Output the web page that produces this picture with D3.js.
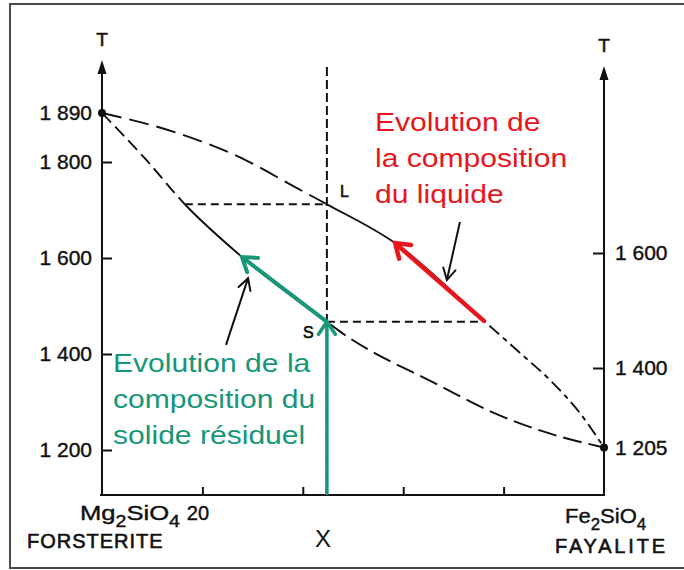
<!DOCTYPE html>
<html><head><meta charset="utf-8">
<script src="https://cdn.jsdelivr.net/npm/d3@7"></script>
<style>
body{margin:0;background:#fff}
svg text{font-family:"Liberation Sans",Arial,Helvetica,sans-serif}
</style>
</head><body><svg id="c" width="684" height="570"></svg>
<script>
// ---- data (composition % Fe2SiO4, temperature °C) ----
const liquidus = [[0,1890],[15.1,1853],[28.5,1804],[38.4,1748],[44.8,1712],[58.4,1631],[76.3,1467],[83.3,1402],[89.8,1340],[95.2,1277],[100,1205]];
const solidus  = [[0,1890],[8.6,1806],[16.5,1712],[27.9,1602],[44.8,1467],[47.8,1444],[67.1,1335],[77.7,1279],[89.0,1235],[100,1205]];
const liquidusBreaks = [44.8, 76.3];
const solidusBreaks  = [16.5, 44.8];
const leftTicks  = [1200,1400,1600,1800,1890];
const rightTicks = [1205,1400,1600];
const xTicks = [20,40,60,80];
const xTickLabels = ["20","","",""];
const compX = 44.8;
const tieHigh = [[16.5,1712],[44.8,1712]];
const tieLow  = [[44.8,1467],[76.3,1467]];
const liquidArrow = [[76.3,1467],[58.4,1631]];
const solidArrow  = [[44.8,1467],[27.9,1602]];
const liquidPointer = [[71.3,1675],[68.7,1554]];
const solidPointer  = [[24.7,1419],[29.1,1558]];
const meltPoints = [[0,1890],[100,1205]];
const liquidLabel = ["Evolution de","la composition","du liquide"];
const solidLabel  = ["Evolution de la","composition du","solide résiduel"];

const RED = "#e8161c", GREEN = "#17967a", INK = "#111";

const svg = d3.select("#c");
const x  = d3.scaleLinear().domain([0,100]).range([102,604]);
const yL = d3.scaleLinear().domain([1200,1800,1890]).range([450,162,113]);
const yR = d3.scaleLinear().domain([1205,1400,1600]).range([448,368,253]);
const baseY = 495;

// frame
svg.append("rect").attr("x",10).attr("y",4).attr("width",700).attr("height",564)
  .attr("fill","none").attr("stroke","#4a4a4a").attr("stroke-width",2);

const fmt = d3.formatLocale({decimal:".",thousands:" ",grouping:[3],currency:["",""]}).format(",");

// left axis
const gL = svg.append("g").attr("transform",`translate(${x(0)},0)`)
  .call(d3.axisLeft(yL).tickValues(leftTicks).tickSize(-10).tickPadding(10).tickFormat(fmt));
gL.select(".domain").remove();
gL.selectAll(".tick").filter(d=>d===1890).select("line").remove();
// right axis
const gR = svg.append("g").attr("transform",`translate(${x(100)},0)`)
  .call(d3.axisRight(yR).tickValues(rightTicks).tickSize(-11).tickPadding(11).tickFormat(fmt));
gR.select(".domain").remove();
gR.selectAll(".tick").filter(d=>d===1205).select("line").remove();
// bottom axis
const gB = svg.append("g").attr("transform",`translate(0,${baseY})`)
  .call(d3.axisBottom(x).tickValues(xTicks).tickSize(-8).tickSizeOuter(0).tickPadding(11)
    .tickFormat((d,i)=>xTickLabels[i]));
gB.select(".domain").attr("stroke",INK).attr("stroke-width",2).attr("d",`M${x(0)-2},0H${x(100)}`);
[gL,gR,gB].forEach(g=>{
  g.selectAll(".tick line").attr("stroke",INK).attr("stroke-width",2);
  g.selectAll(".tick text").attr("font-size",21).attr("fill",INK)
    .attr("stroke",INK).attr("stroke-width",0.4);
});
gB.selectAll(".tick text").attr("dx",-5).attr("font-size",20);

// vertical axis lines with arrows
function vAxis(px, tipY){
  svg.append("line").attr("x1",px).attr("x2",px).attr("y1",baseY+1).attr("y2",tipY+8)
    .attr("stroke",INK).attr("stroke-width",2);
  svg.append("path").attr("d",`M${px},${tipY}L${px-4.5},${tipY+14}L${px+4.5},${tipY+14}Z`).attr("fill",INK);
  svg.append("text").attr("x",px).attr("y",tipY-14).attr("text-anchor","middle")
    .attr("font-size",19).attr("fill",INK).attr("stroke",INK).attr("stroke-width",0.5).text("T");
}
vAxis(x(0),60);
vAxis(x(100),66);

// clip helper
const defs = svg.append("defs");
let clipId = 0;
function clipX(a,b){
  const id = "clip"+(clipId++);
  defs.append("clipPath").attr("id",id).append("rect")
    .attr("x",x(a)).attr("y",0).attr("width",x(b)-x(a)).attr("height",570);
  return `url(#${id})`;
}
const line = d3.line().x(d=>x(d[0])).y(d=>yL(d[1])).curve(d3.curveMonotoneX);

function drawCurve(data, breaks, dashes){
  const bounds = [0, ...breaks, 100];
  for(let i=0;i<3;i++){
    svg.append("path").attr("d",line(data)).attr("fill","none")
      .attr("stroke",INK).attr("stroke-width",1.9)
      .attr("stroke-dasharray",dashes[i]).attr("clip-path",clipX(bounds[i],bounds[i+1]));
  }
}
drawCurve(liquidus, liquidusBreaks, ["20,8",null,"13,5,5,5"]);
drawCurve(solidus, solidusBreaks, ["13,6",null,"19,7"]);

// tie lines and vertical composition line
const straight = d3.line().x(d=>x(d[0])).y(d=>yL(d[1]));
[tieHigh, tieLow].forEach(t=>{
  svg.append("path").attr("d",straight(t)).attr("stroke",INK).attr("stroke-width",2)
    .attr("stroke-dasharray","8,5").attr("fill","none");
});
svg.append("line").attr("x1",x(compX)).attr("x2",x(compX)).attr("y1",67).attr("y2",baseY)
  .attr("stroke",INK).attr("stroke-width",2).attr("stroke-dasharray","9,4");

// melting points
svg.selectAll("circle.mp").data(meltPoints).join("circle").attr("class","mp")
  .attr("cx",d=>x(d[0])).attr("cy",d=>yL(d[1])).attr("r",4).attr("fill",INK);

// arrows
function head(x1,y1,x2,y2,len,ang){
  const a = Math.atan2(y2-y1,x2-x1);
  return `M${x2-len*Math.cos(a-ang)},${y2-len*Math.sin(a-ang)}L${x2},${y2}L${x2-len*Math.cos(a+ang)},${y2-len*Math.sin(a+ang)}`;
}
function arrow(p1,p2,color,w,len,ang){
  const x1=p1[0],y1=p1[1],x2=p2[0],y2=p2[1];
  svg.append("line").attr("x1",x1).attr("y1",y1).attr("x2",x2).attr("y2",y2)
    .attr("stroke",color).attr("stroke-width",w);
  svg.append("path").attr("d",head(x1,y1,x2,y2,len,ang)).attr("fill","none")
    .attr("stroke",color).attr("stroke-width",w).attr("stroke-linecap","round").attr("stroke-linejoin","miter");
}
const P = d=>[x(d[0]),yL(d[1])];
arrow(P(liquidArrow[0]),P(liquidArrow[1]),RED,4.5,16,0.6);
arrow(P(solidArrow[0]),P(solidArrow[1]),GREEN,4,16,0.6);
arrow([x(compX),baseY],P(solidArrow[0]),GREEN,3.5,15,0.6);
arrow(P(liquidPointer[0]),P(liquidPointer[1]),INK,2,13,0.5);
arrow(P(solidPointer[0]),P(solidPointer[1]),INK,2,13,0.5);

// point labels
svg.append("text").attr("x",x(compX)+13).attr("y",yL(1712)-7).attr("font-size",16)
  .attr("fill",INK).attr("stroke",INK).attr("stroke-width",0.6).text("L");
svg.append("text").attr("x",x(compX)-24).attr("y",yL(1467)+16).attr("font-size",16)
  .attr("fill",INK).attr("stroke",INK).attr("stroke-width",0.6).text("S");

// annotation texts
function block(lines,tx,ty,color){
  const g = svg.append("g").attr("transform",`translate(${tx},${ty}) scale(1.18,1)`);
  g.selectAll("text").data(lines).join("text").attr("x",0).attr("y",(d,i)=>i*36)
    .attr("font-size",25.5).attr("fill",color).text(d=>d);
}
block(liquidLabel,375,131,RED);
block(solidLabel,113,372,GREEN);

// end-member labels
function formula(tx,ty,parts,sx){
  const t = svg.append("g").attr("transform",`translate(${tx},${ty}) scale(${sx},1)`)
    .append("text").attr("x",0).attr("y",0).attr("font-size",21).attr("fill",INK)
    .attr("stroke",INK).attr("stroke-width",0.4);
  let sub=false;
  parts.forEach(p=>{
    const isSub = /^\d$/.test(p);
    const s = t.append("tspan").text(p);
    if(isSub!==sub){ s.attr("dy", isSub?7:-7); sub=isSub; }
    if(isSub) s.attr("font-size",16);
  });
}
formula(80,520,["Mg","2","SiO","4"],1.22);
formula(565,523,["Fe","2","SiO","4"],1.05);
svg.append("text").attr("x",27).attr("y",548).attr("font-size",20).attr("letter-spacing",1)
  .attr("fill",INK).attr("stroke",INK).attr("stroke-width",0.6).text("FORSTERITE");
svg.append("text").attr("x",555).attr("y",553).attr("font-size",20).attr("letter-spacing",2.8)
  .attr("fill",INK).attr("stroke",INK).attr("stroke-width",0.6).text("FAYALITE");
svg.append("text").attr("x",323).attr("y",547).attr("text-anchor","middle").attr("font-size",24)
  .attr("fill",INK).text("X");
</script></body></html>
